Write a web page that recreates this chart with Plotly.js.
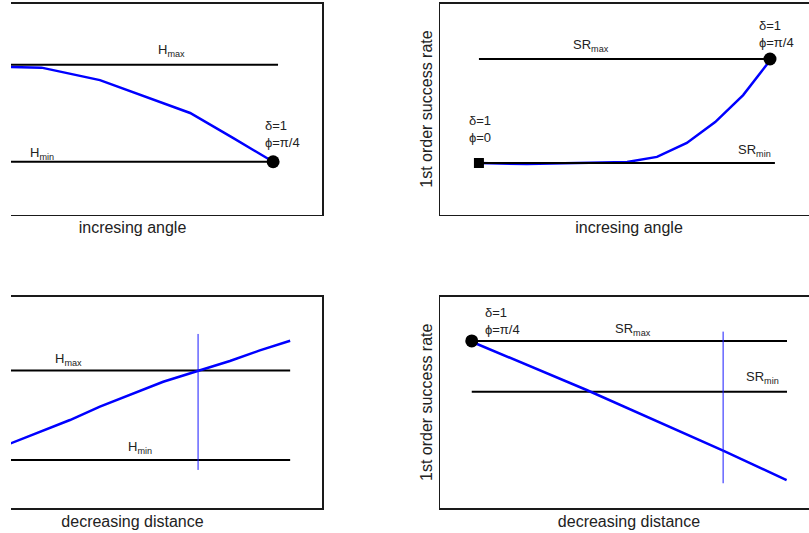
<!DOCTYPE html>
<html><head><meta charset="utf-8">
<script src="https://cdn.plot.ly/plotly-3.0.1.min.js"></script>
<style>
html,body{margin:0;padding:0;background:#fff;overflow:hidden}
#wrap{position:absolute;left:11px;top:0;width:798px;height:533px;overflow:hidden;background:#fff}
#chart{position:absolute;left:-68px;top:0;width:880px;height:533px}
</style></head><body>
<div id="wrap"><div id="chart"></div></div>
<script>
// ---- Panel A (top-left): H versus increasing angle ----
const angleA = [10, 17.9, 26.0, 41.4, 50.1, 65.2, 76.5, 87.1];
const hA     = [70.2, 70.0, 69.6, 63.7, 58.1, 48.1, 36.3, 25];
const limitXA = [10, 88.4];
const hMaxA = [71, 71];
const hMinA = [25, 25];
const endA = {x: 87.1, y: 25};

// ---- Panel B (top-right): success rate versus increasing angle ----
const angleB = [10.3, 23.0, 49.5, 57.4, 65.3, 72.8, 80.2, 87.3];
const srB    = [24.4, 23.9, 24.9, 27.3, 33.9, 43.8, 56.6, 73.0];
const srMaxXB = [10.3, 87.3];
const srMinXB = [10.3, 88.6];
const srMaxB = [73.7, 73.7];
const srMinB = [24.4, 24.4];
const startB = {x: 10.3, y: 24.4};
const endB = {x: 87.3, y: 73.7};

// ---- Panel C (bottom-left): H versus decreasing distance ----
const distC = [10, 18.1, 25.6, 33.5, 41.4, 50.2, 58.1, 67.4, 75.7, 83.6, 91.6];
const hC    = [25, 30.6, 36.1, 41.6, 47.9, 54.2, 59.7, 64.9, 69.5, 74.5, 79.1];
const limitXC = [10, 91.6];
const hMaxC = [65, 65];
const hMinC = [22.7, 22.7];
const markC = {x: 67.3, y0: 18.0, y1: 82.3};

// ---- Panel D (bottom-right): success rate versus decreasing distance ----
const distD = [8.4, 38.8, 74.9, 91.7];
const srD   = [78.6, 55.8, 27.1, 13.2];
const limitXD = [8.4, 91.8];
const srMaxD = [79.0, 79.0];
const srMinD = [55.0, 55.0];
const startD = {x: 8.4, y: 79.0};
const markD = {x: 74.9, y0: 11.7, y1: 83.4};

// labels
const T = {
  hmax: 'H<sub>max</sub>', hmin: 'H<sub>min</sub>',
  srmax: 'SR<sub>max</sub>', srmin: 'SR<sub>min</sub>',
  dp4: 'δ=1<br>ϕ=π/4', dp0: 'δ=1<br>ϕ=0',
  xAngle: 'incresing angle', xDist: 'decreasing distance',
  ySR: '1st order success rate'
};

const BLACK = '#000000', BLUE = '#0000ff', TXT = '#222222';
const W = 880;
const dxL = [0, 379 / W], dxR = [497 / W, 875 / W];
const dyT = [1 - 214.5 / 533, 1 - 3.5 / 533], dyB = [1 - 508 / 533, 1 - 296.5 / 533];

function line(x, y, xa, ya, color, width) {
  return {x, y, xaxis: xa, yaxis: ya, mode: 'lines', line: {color, width}, hoverinfo: 'skip', showlegend: false, cliponaxis: true};
}
function mark(x, y, xa, ya, symbol, size) {
  return {x: [x], y: [y], xaxis: xa, yaxis: ya, mode: 'markers', marker: {symbol, size, color: BLACK}, hoverinfo: 'skip', showlegend: false, cliponaxis: false};
}

const data = [
  // A
  line(limitXA, hMaxA, 'x', 'y', BLACK, 2),
  line(limitXA, hMinA, 'x', 'y', BLACK, 2),
  line(angleA, hA, 'x', 'y', BLUE, 2.5),
  mark(endA.x, endA.y, 'x', 'y', 'circle', 13),
  // B
  line(srMaxXB, srMaxB, 'x2', 'y2', BLACK, 2),
  line(angleB, srB, 'x2', 'y2', BLUE, 2.5),
  line(srMinXB, srMinB, 'x2', 'y2', BLACK, 2),
  mark(startB.x, startB.y, 'x2', 'y2', 'square', 10),
  mark(endB.x, endB.y, 'x2', 'y2', 'circle', 13),
  // C
  line(limitXC, hMaxC, 'x3', 'y3', BLACK, 2),
  line(limitXC, hMinC, 'x3', 'y3', BLACK, 2),
  line(distC, hC, 'x3', 'y3', BLUE, 2.5),
  line([markC.x, markC.x], [markC.y0, markC.y1], 'x3', 'y3', '#1a1aff', 1),
  // D
  line(limitXD, srMaxD, 'x4', 'y4', BLACK, 2),
  line(limitXD, srMinD, 'x4', 'y4', BLACK, 2),
  line(distD, srD, 'x4', 'y4', BLUE, 2.5),
  line([markD.x, markD.x], [markD.y0, markD.y1], 'x4', 'y4', '#1a1aff', 1),
  mark(startD.x, startD.y, 'x4', 'y4', 'circle', 13)
];

function axis(domain, anchor, title, extra) {
  return Object.assign({
    domain, anchor, range: [0, 100], showgrid: false, zeroline: false,
    showticklabels: false, ticks: '', showline: true, mirror: true,
    linecolor: '#1a1a1a', linewidth: 1.5, fixedrange: true,
    title: {text: title, font: {size: 16, color: TXT}, standoff: 7}
  }, extra || {});
}

function ann(text, x, y, xr, yr, xanchor) {
  return {text, x, y, xref: xr, yref: yr, showarrow: false,
          xanchor: xanchor || 'center', yanchor: 'middle', align: 'left',
          font: {family: '"Liberation Sans", Arial, sans-serif', size: 13, color: TXT}};
}

const annotations = [
  ann(T.hmax, 60.2, 77.5, 'x', 'y'),
  ann(T.hmin, 26.0, 29.1, 'x', 'y'),
  ann(T.dp4, 84.4, 38.2, 'x', 'y', 'left'),
  ann(T.srmax, 40.0, 79.9, 'x2', 'y2'),
  ann(T.srmin, 83.3, 30.1, 'x2', 'y2'),
  ann(T.dp4, 83.9, 85.5, 'x2', 'y2', 'left'),
  ann(T.dp0, 7.1, 40.5, 'x2', 'y2', 'left'),
  ann(T.hmax, 33.0, 70.0, 'x3', 'y3'),
  ann(T.hmin, 52.0, 28.4, 'x3', 'y3'),
  ann(T.dp4, 11.4, 88.4, 'x4', 'y4', 'left'),
  ann(T.srmax, 51.1, 84.2, 'x4', 'y4'),
  ann(T.srmin, 85.4, 61.9, 'x4', 'y4')
];

const layout = {
  width: W, height: 533,
  margin: {l: 0, r: 0, t: 0, b: 0, autoexpand: false},
  paper_bgcolor: '#ffffff', plot_bgcolor: '#ffffff',
  font: {family: '"Liberation Sans", Arial, sans-serif', size: 13, color: TXT},
  showlegend: false,
  xaxis: axis(dxL, 'y', T.xAngle),
  yaxis: axis(dyT, 'x', ''),
  xaxis2: axis(dxR, 'y2', T.xAngle),
  yaxis2: axis(dyT, 'x2', T.ySR, {title: {text: T.ySR, font: {size: 16, color: TXT}, standoff: 2}}),
  xaxis3: axis(dxL, 'y3', T.xDist),
  yaxis3: axis(dyB, 'x3', ''),
  xaxis4: axis(dxR, 'y4', T.xDist),
  yaxis4: axis(dyB, 'x4', T.ySR, {title: {text: T.ySR, font: {size: 16, color: TXT}, standoff: 2}}),
  annotations
};

Plotly.newPlot('chart', data, layout, {displayModeBar: false, staticPlot: true});
</script>
</body></html>
